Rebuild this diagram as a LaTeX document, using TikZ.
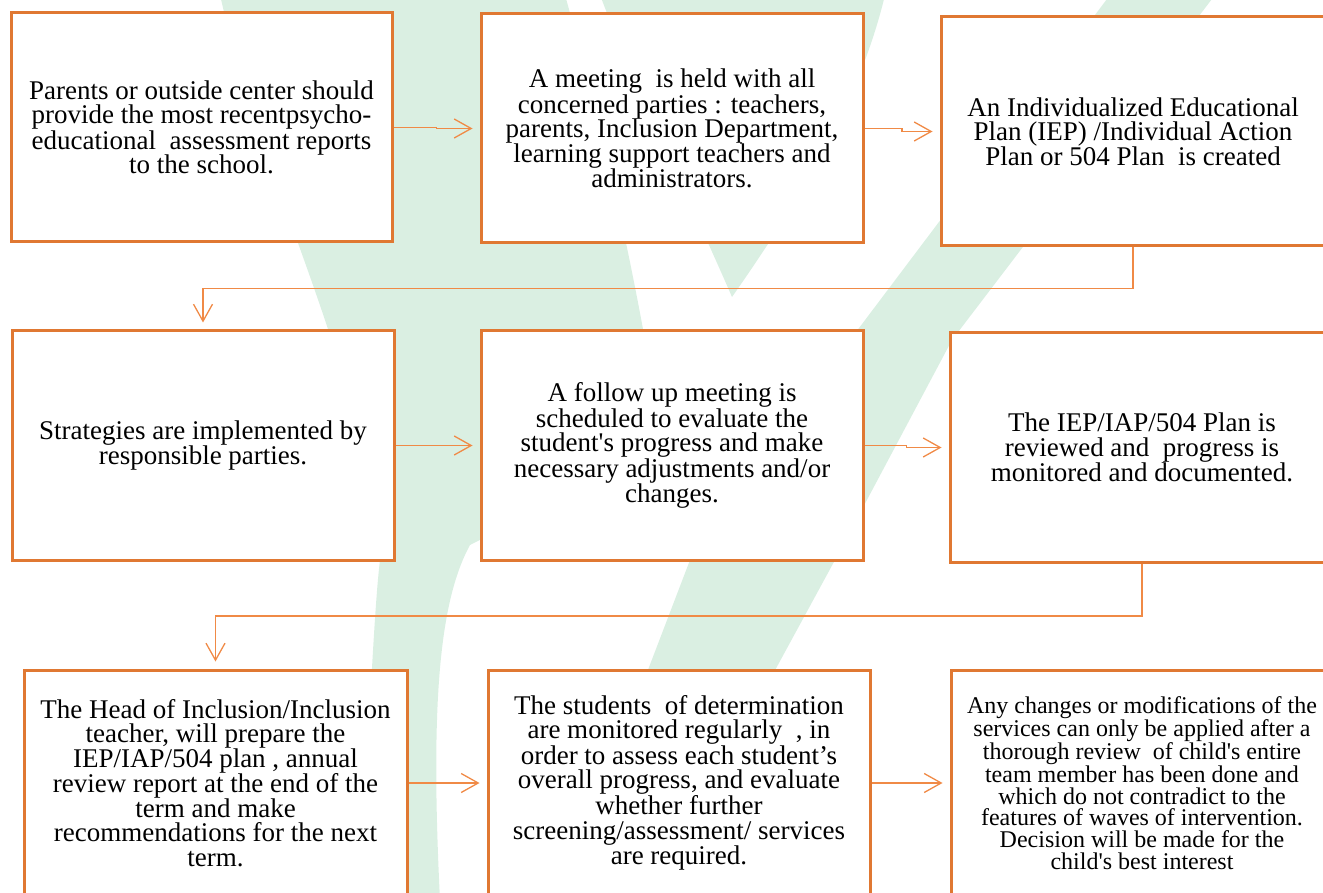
\documentclass[tikz,border=0pt]{standalone}
\usepackage{fontspec}
\setmainfont{Liberation Serif}
\usetikzlibrary{arrows.meta,calc}
\definecolor{mint}{RGB}{218,239,226}
\definecolor{boxor}{RGB}{224,120,50}
\definecolor{lineor}{RGB}{240,138,70}
\begin{document}
\begin{tikzpicture}[x=1pt,y=-1pt,
  box/.style={draw=boxor,line width=3pt,fill=white,align=center,inner sep=0pt,
    font=\fontsize{27}{24.5}\selectfont},
  smallbox/.style={box,font=\fontsize{24}{21.7}\selectfont},
  conn/.style={draw=lineor,line width=1.3pt,shorten >=7pt,
    -{Straight Barb[length=17pt,width=19pt,line width=1.3pt]}}]
\useasboundingbox (0,0) rectangle (1323,893);
\clip (0,0) rectangle (1323,893);
% background logo shapes
\fill[mint] (220,-5) -- (565,-5) .. controls (600,120) and (625,230) .. (645,340)
  .. controls (650,420) and (560,500) .. (470,545) .. controls (440,600) and (430,700) .. (440,900)
  -- (360,900) .. controls (370,700) and (375,600) .. (380,560)
  .. controls (370,450) and (340,360) .. (298,243) .. controls (260,150) and (235,60) .. (220,-5) -- cycle;
\fill[mint] (600,-5) -- (885,-5) .. controls (860,100) and (800,200) .. (732,297)
  .. controls (690,200) and (640,100) .. (600,-5) -- cycle;
\fill[mint] (1110,-5) -- (1215,-5) -- (952,340) -- (835,560) -- (650,900) -- (560,900) -- (690,560) -- (850,340) -- cycle;
% boxes
\node[box,minimum width=381pt,minimum height=229pt] (b1) at (201.5,127.5)
  {Parents or outside center should\\provide the most recentpsycho-\\educational~ assessment reports\\to the school.};
\node[box,minimum width=382pt,minimum height=229pt] (b2) at (672,128.5)
  {A meeting~ is held with all\\concerned parties : teachers,\\parents, Inclusion Department,\\learning support teachers and\\administrators.};
\node[box,minimum width=384pt,minimum height=229pt] (b3) at (1133,131.5)
  {An Individualized Educational\\Plan (IEP) /Individual Action\\Plan or 504 Plan~ is created};
\node[box,minimum width=382pt,minimum height=229pt] (b4) at (203,445.5)
  {Strategies are implemented by\\responsible parties.};
\node[box,minimum width=382pt,minimum height=229pt] (b5) at (672,445.5)
  {A follow up meeting is\\scheduled to evaluate the\\student\textquotesingle s progress and make\\necessary adjustments and/or\\changes.};
\node[box,minimum width=384pt,minimum height=229pt] (b6) at (1142,447.5)
  {The IEP/IAP/504 Plan is\\reviewed and~ progress is\\monitored and documented.};
\node[box,minimum width=383pt,minimum height=226pt] (b7) at (215.5,783)
  {The Head of Inclusion/Inclusion\\teacher, will prepare the\\IEP/IAP/504 plan , annual\\review report at the end of the\\term and make\\recommendations for the next\\term.};
\node[box,minimum width=382pt,minimum height=226pt] (b8) at (679,783)
  {The students~ of determination\\are monitored regularly~ , in\\order to assess each student’s\\overall progress, and evaluate\\whether further\\screening/assessment/ services\\are required.};
\node[smallbox,minimum width=382pt,minimum height=226pt] (b9) at (1142,783)
  {Any changes or modifications of the\\services can only be applied after a\\thorough review~ of child\textquotesingle s entire\\team member has been done and\\which do not contradict to the\\features of waves of intervention.\\Decision will be made for the\\child\textquotesingle s best interest};
% connectors
\draw[conn] (b1.east) -| ($(b1.east)!0.5!(b2.west)$) |- (b2.west);
\draw[conn] (b2.east) -| ($(b2.east)!0.5!(b3.west)$) |- (b3.west);
\draw[conn] (b3.south) -- ++(0,41) -| (b4.north);
\draw[conn] (b4.east) -- (b5.west);
\draw[conn] (b5.east) -| ($(b5.east)!0.5!(b6.west)$) |- (b6.west);
\draw[conn] (b6.south) -- ++(0,52.5) -| (b7.north);
\draw[conn] (b7.east) -- (b8.west);
\draw[conn] (b8.east) -- (b9.west);
\end{tikzpicture}
\end{document}
